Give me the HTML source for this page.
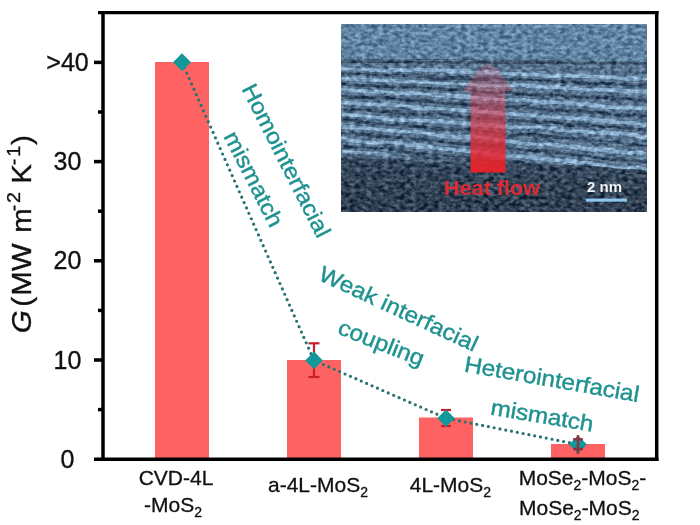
<!DOCTYPE html>
<html><head><meta charset="utf-8">
<style>
html,body{margin:0;padding:0;background:#fff;}
body{width:700px;height:525px;overflow:hidden;position:relative;font-family:"Liberation Sans",sans-serif;}
svg{position:absolute;left:0;top:0;filter:blur(0.35px);}
</style></head>
<body>
<svg width="700" height="525" viewBox="0 0 700 525" font-family="Liberation Sans, sans-serif">
  <defs>
    <filter id="tem" x="341" y="24" width="306" height="188" filterUnits="userSpaceOnUse" color-interpolation-filters="sRGB">
      <feTurbulence type="fractalNoise" baseFrequency="0.18 0.28" numOctaves="2" seed="7" result="n"/>
      <feColorMatrix in="n" type="matrix" values="0.5 0.5 0 0 0  0.5 0.5 0 0 0  0.5 0.5 0 0 0  0 0 0 0 1" result="g"/>
      <feComponentTransfer in="g" result="gc">
        <feFuncR type="linear" slope="3" intercept="-1"/>
        <feFuncG type="linear" slope="3" intercept="-1"/>
        <feFuncB type="linear" slope="3" intercept="-1"/>
      </feComponentTransfer>
      <feComposite in="gc" in2="SourceGraphic" operator="arithmetic" k1="0" k2="0.3" k3="1" k4="-0.15" result="b"/>
      <feGaussianBlur in="b" stdDeviation="0.7" result="bb"/>
      <feComposite in="bb" in2="SourceGraphic" operator="in"/>
    </filter>
    <linearGradient id="arrowg" x1="0" y1="60" x2="0" y2="172.5" gradientUnits="userSpaceOnUse">
      <stop offset="0" stop-color="#e85a70" stop-opacity="0.15"/>
      <stop offset="0.3" stop-color="#e04a60" stop-opacity="0.4"/>
      <stop offset="0.6" stop-color="#e0303e" stop-opacity="0.68"/>
      <stop offset="1" stop-color="#ee2028" stop-opacity="0.95"/>
    </linearGradient>
    <linearGradient id="botg" x1="0" y1="0" x2="0.05" y2="1">
      <stop offset="0" stop-color="#34465a" stop-opacity="0"/>
      <stop offset="0.25" stop-color="#34465a" stop-opacity="0.9"/>
      <stop offset="1" stop-color="#2f3e50" stop-opacity="1"/>
    </linearGradient>
    <filter id="wavy" x="330" y="40" width="330" height="150" filterUnits="userSpaceOnUse">
      <feTurbulence type="fractalNoise" baseFrequency="0.03 0.08" numOctaves="2" seed="11" result="w"/>
      <feDisplacementMap in="SourceGraphic" in2="w" scale="5" xChannelSelector="R" yChannelSelector="G"/>
    </filter>
    <clipPath id="insetclip"><rect x="341" y="24" width="306" height="188"/></clipPath>
  </defs>

  <!-- bars -->
  <g fill="#ff6262">
    <rect x="155" y="62" width="54" height="397"/>
    <rect x="287" y="360" width="54" height="99"/>
    <rect x="419" y="417.5" width="54" height="41.5"/>
    <rect x="551" y="444" width="54" height="15"/>
  </g>

  <!-- axes frame -->
  <g stroke="#000" stroke-width="3.5" fill="none">
    <line x1="103" y1="11" x2="103" y2="461"/>
    <line x1="98" y1="12.6" x2="658.5" y2="12.6" stroke-width="3.1"/>
    <line x1="656.7" y1="11" x2="656.7" y2="461"/>
    <line x1="94" y1="459.3" x2="658.5" y2="459.3"/>
    <line x1="94" y1="62.4" x2="103" y2="62.4"/>
    <line x1="94" y1="161.6" x2="103" y2="161.6"/>
    <line x1="94" y1="260.8" x2="103" y2="260.8"/>
    <line x1="94" y1="360" x2="103" y2="360"/>
    <line x1="98" y1="112" x2="103" y2="112"/>
    <line x1="98" y1="211.2" x2="103" y2="211.2"/>
    <line x1="98" y1="310.4" x2="103" y2="310.4"/>
    <line x1="98" y1="409.6" x2="103" y2="409.6"/>
  </g>

  <!-- y tick labels -->
  <g font-size="25" fill="#111" text-anchor="middle" stroke="#111" stroke-width="0.35">
    <text x="67.5" y="71">&gt;40</text>
    <text x="67.5" y="170">30</text>
    <text x="67.5" y="269.3">20</text>
    <text x="67.5" y="368.5">10</text>
    <text x="67.5" y="467.6">0</text>
  </g>

  <!-- y axis title -->
  <text transform="translate(30.5,335.7) rotate(-90) scale(1.091,1)" font-size="27" fill="#111" stroke="#111" stroke-width="0.35"><tspan x="2.25" y="0" font-style="italic">G</tspan><tspan x="26.55" y="0">(</tspan><tspan x="36.69" y="0">M</tspan><tspan x="59.20" y="0">W</tspan><tspan x="94.34" y="0">m</tspan><tspan x="114.05" y="-11" font-size="18">-</tspan><tspan x="121.58" y="-11" font-size="18">2</tspan><tspan x="139.35" y="0">K</tspan><tspan x="156.31" y="-11" font-size="18">-</tspan><tspan x="164.04" y="-11" font-size="18">1</tspan><tspan x="174.72" y="0">)</tspan></text>

  <!-- x labels -->
  <g font-size="21" fill="#111" text-anchor="middle" stroke="#111" stroke-width="0.3">
    <text x="176" y="485.3">CVD-4L</text>
    <text x="173" y="511.8">-MoS<tspan font-size="14" dy="5.5">2</tspan></text>
    <text x="318" y="491.8">a-4L-MoS<tspan font-size="14" dy="5.5">2</tspan></text>
    <text x="450.4" y="491.6">4L-MoS<tspan font-size="14" dy="5.5">2</tspan></text>
    <text x="582.5" y="484.8">MoSe<tspan font-size="14" dy="5.5">2</tspan><tspan dy="-5.5">-MoS</tspan><tspan font-size="14" dy="5.5">2</tspan><tspan dy="-5.5">-</tspan></text>
    <text x="579.3" y="514.6">MoSe<tspan font-size="14" dy="5.5">2</tspan><tspan dy="-5.5">-MoS</tspan><tspan font-size="14" dy="5.5">2</tspan></text>
  </g>

  <!-- inset TEM image -->
  <g clip-path="url(#insetclip)">
    <g filter="url(#tem)">
      <rect x="341" y="24" width="306" height="188" fill="#324458"/>
      <path d="M341 24 H647 V62 Q494 59 341 59 Z" fill="#5f83a0"/>
      <path d="M341 59 Q494 60 647 62 L647 168 Q494 162 341 158 Z" fill="#56728c"/>
      <g fill="none" stroke="#364c63" stroke-width="3" filter="url(#wavy)">
        <path d="M341 73.5 Q494 78.5 647 85.2"/>
        <path d="M341 84.2 Q494 91.4 647 100.2"/>
        <path d="M341 96.0 Q494 105.3 647 116.2"/>
        <path d="M341 108.8 Q494 118.6 647 130.1"/>
        <path d="M341 120.7 Q494 132.2 647 145.3"/>
        <path d="M341 132.2 Q494 146.4 647 162.1"/>
        <path d="M341 144.5 Q494 159.9 647 176.9"/>
      </g>
      <g fill="none" stroke="#88abca" stroke-width="3.6" opacity="1" filter="url(#wavy)">
        <path d="M341 68.2 Q494 72.6 647 78.6"/>
        <path d="M341 78.7 Q494 84.4 647 91.7"/>
        <path d="M341 89.7 Q494 98.4 647 108.6"/>
        <path d="M341 102.2 Q494 112.3 647 123.9"/>
        <path d="M341 115.3 Q494 125.0 647 136.2"/>
        <path d="M341 126.0 Q494 139.4 647 154.4"/>
        <path d="M341 138.5 Q494 153.3 647 169.8"/>
        <path d="M341 150.5 Q494 166.4 647 184.0"/>
      </g>
      <path d="M341 61.5 Q494 62.5 647 63.5" fill="none" stroke="#3a4f64" stroke-width="2.5"/>
      <path d="M341 150 L647 172 L647 212 L341 212 Z" fill="url(#botg)"/>
    </g>
    <path d="M470.5 172.5 L470.5 91 L463.5 91 L480 67 Q488 60 496 67 L513 91 L505.5 91 L505.5 172.5 Z" fill="url(#arrowg)"/>
    <text transform="translate(492,195) scale(1.08,1)" font-size="20" font-weight="bold" fill="#e02a34" text-anchor="middle">Heat flow</text>
    <text x="604.5" y="192.3" font-size="15" font-weight="bold" fill="#f2f2f2" text-anchor="middle">2 nm</text>
    <rect x="586" y="198.5" width="41" height="3.2" fill="#8ec4f0"/>
  </g>

  <!-- dotted line -->
  <polyline points="182,62.3 314,360.4 446,418.2 578,444.4" fill="none" stroke="#267271" stroke-width="3.2" stroke-linecap="round" stroke-dasharray="0 5.9"/>

  <!-- error bars -->
  <g stroke="#c8202a" stroke-width="2.2" fill="none">
    <line x1="314" y1="343.3" x2="314" y2="377"/>
    <line x1="308.5" y1="343.3" x2="319.5" y2="343.3"/>
    <line x1="308.5" y1="377" x2="319.5" y2="377"/>
    <line x1="446" y1="410" x2="446" y2="426"/>
    <line x1="441" y1="410" x2="451" y2="410"/>
    <line x1="441" y1="426" x2="451" y2="426"/>
  </g>

  <!-- diamonds -->
  <g fill="#12989a">
    <path d="M182 53.3 L191 62.3 L182 71.3 L173 62.3 Z"/>
    <path d="M314 351.6 L322.8 360.4 L314 369.2 L305.2 360.4 Z"/>
    <path d="M446 409.5 L454.7 418.2 L446 426.9 L437.3 418.2 Z"/>
    <path d="M578 435.4 L587 444.4 L578 453.4 L569 444.4 Z"/>
  </g>
  <g stroke="#9a2633" stroke-width="2.6" fill="none" opacity="0.85">
    <line x1="578" y1="435" x2="578" y2="454"/>
    <line x1="573" y1="439.3" x2="583" y2="439.3"/>
    <line x1="573" y1="449" x2="583" y2="449"/>
  </g>

  <!-- annotations -->
  <g fill="#1f9290" font-size="22.5" stroke="#1f9290" stroke-width="0.4">
    <text transform="translate(241.2,88.8) rotate(63.09) scale(1.08,1)">Homointerfacial</text>
    <text transform="translate(223.3,136.2) rotate(63.0) scale(1.08,1)">mismatch</text>
    <text transform="translate(317.3,279.4) rotate(24.89) scale(1.08,1)">Weak interfacial</text>
    <text transform="translate(336.5,333.2) rotate(21.66) scale(1.08,1)">coupling</text>
    <text transform="translate(463.5,371.5) rotate(9.95) scale(1.08,1)">Heterointerfacial</text>
    <text transform="translate(489.7,414.4) rotate(9.57) scale(1.08,1)">mismatch</text>
  </g>
</svg>
</body></html>
